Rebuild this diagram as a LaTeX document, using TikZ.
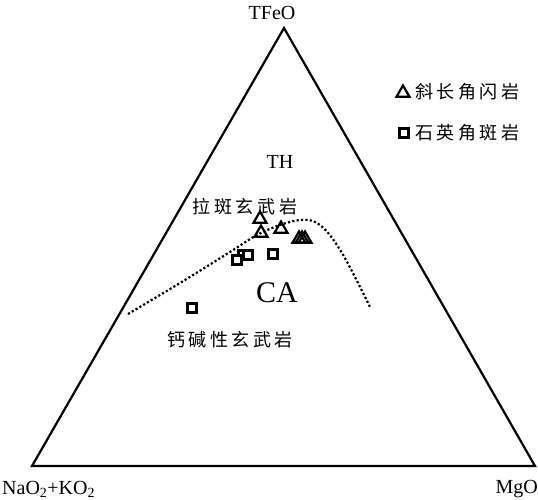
\documentclass[tikz,border=0pt]{standalone}
\usepackage{fontspec}
\setmainfont{Liberation Serif}
\newfontfamily\cjk[LetterSpace=20]{Noto Sans CJK SC}
\usetikzlibrary{shapes.geometric}

\begin{document}
\begin{tikzpicture}[x=1pt,y=-1pt]
  \useasboundingbox (0,0) rectangle (538,500);

  % corners of the diagram
  \coordinate (fe) at (284,28);
  \coordinate (na) at (32,466);
  \coordinate (mg) at (535,466);

  \draw[line width=2.2pt,line join=miter] (fe) -- (na) -- (mg) -- cycle;

  \begin{scope}[every node/.style={inner sep=0pt,font=\fontsize{20}{20}\selectfont}]
    \node (tfeo) at (272,13) {TFeO};
    \node[anchor=west] (naok) at (2,489) {NaO\textsubscript{2}+KO\textsubscript{2}};
    \node[anchor=east] (mgo) at (538,489) {MgO};
    \node (th) at (280,162) {TH};
    \node (ca) at (277,293) {\fontsize{30}{30}\selectfont CA};
  \end{scope}

  \begin{scope}[every node/.style={inner sep=0pt,font=\cjk\fontsize{18}{18}\selectfont}]
    \node (tholei) at (245,207) {拉斑玄武岩};
    \node (calc) at (230,340) {钙碱性玄武岩};
    \node[anchor=west] (amph) at (415,92) {斜长角闪岩};
    \node[anchor=west] (kerat) at (415,133) {石英角斑岩};
  \end{scope}

  % boundary between TH and CA
  \draw[line width=2.2pt,dash pattern=on 2.2pt off 2.2pt] plot[smooth,tension=0.6]
    coordinates {(128,314) (180,283) (230,252) (257,235) (280,225) (300,220)
                 (315,222) (329,234) (346,260) (370,307)};

  \begin{scope}[every node/.style={regular polygon,regular polygon sides=3,draw,
      line width=2.2pt,inner sep=0pt,minimum size=15pt}]
    \node (t1) at (260,219) {};
    \node (t2) at (261,233) {};
    \node (t3) at (281,229) {};
    \node (t4) at (299,239) {};
    \node (t5) at (302,239) {};
    \node (t6) at (305,239) {};
    \node (tl) at (403,93) {};
  \end{scope}

  \begin{scope}[every node/.style={rectangle,draw,fill=white,
      line width=2.2pt,inner sep=0pt,minimum size=9pt}]
    \node (s1) at (243,255) {};
    \node (s2) at (248,255) {};
    \node (s3) at (237,260) {};
    \node (s4) at (273,254) {};
    \node (s5) at (192,308) {};
    \node (sl) at (404,133) {};
  \end{scope}

\end{tikzpicture}
\end{document}
